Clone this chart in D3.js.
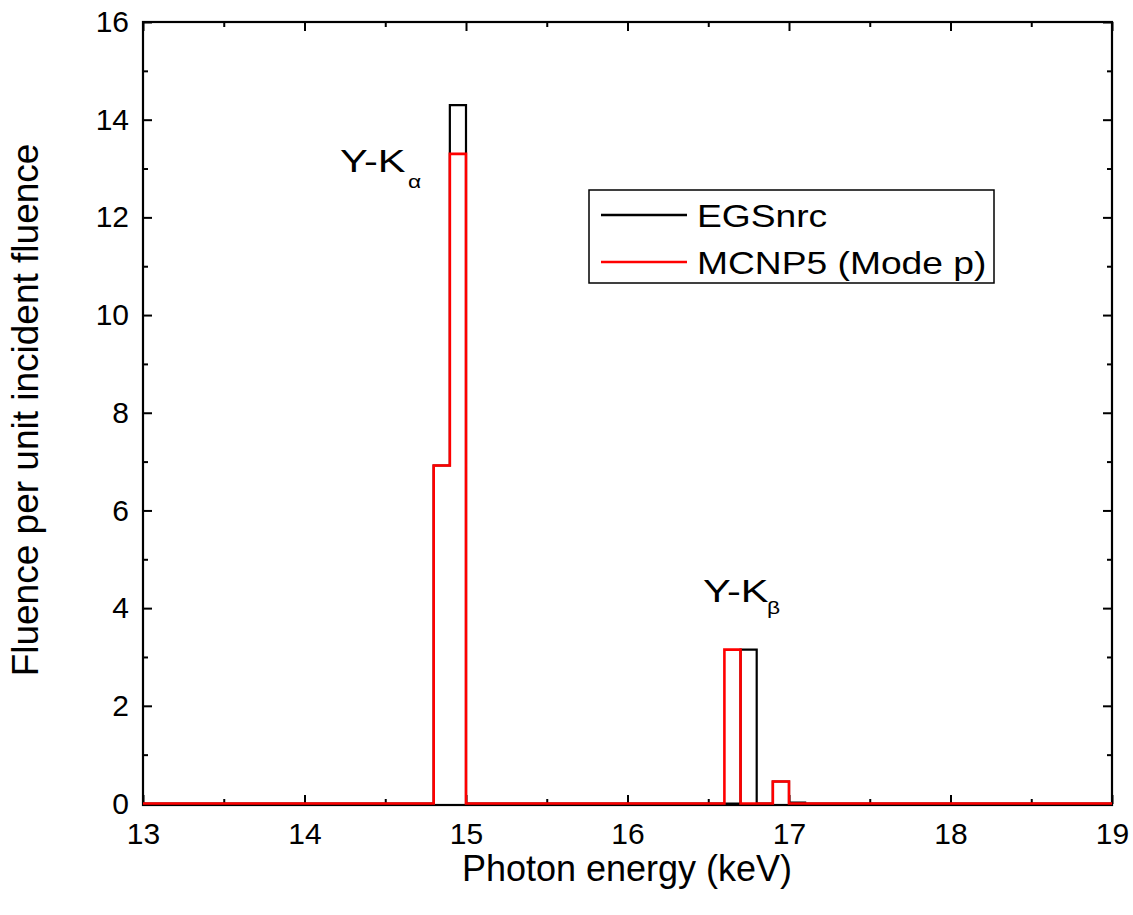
<!DOCTYPE html>
<html>
<head>
<meta charset="utf-8">
<script src="https://cdn.jsdelivr.net/npm/d3@7"></script>
<style>
  body { margin: 0; background: #fff; }
  svg { display: block; }
  text { font-family: "Liberation Sans", Arial, sans-serif; fill: #000; }
</style>
</head>
<body>
<svg id="chart" width="1133" height="915"></svg>
<script>
// ---- data (step histograms: bin left edge -> value) ----
const egsEnergy  = [13.0, 14.8, 14.9, 15.0, 16.7, 16.8, 16.9, 17.0, 17.1, 19.0];
const egsValue   = [0,    6.92, 14.3, 0,    3.15, 0,    0.45, 0.02, 0,    0];
const mcnpEnergy = [13.0, 14.8, 14.9, 15.0, 16.6, 16.7, 16.8, 16.9, 17.0, 19.0];
const mcnpValue  = [0,    6.92, 13.3, 0,    3.15, 0,    0,    0.45, 0,    0];
const xTicks = [13, 14, 15, 16, 17, 18, 19];
const xMinor = [13.5, 14.5, 15.5, 16.5, 17.5, 18.5];
const yTicks = [0, 2, 4, 6, 8, 10, 12, 14, 16];
const yMinor = [1, 3, 5, 7, 9, 11, 13, 15];
const seriesNames = ["EGSnrc", "MCNP5 (Mode p)"];
const seriesColors = ["#000000", "#ff0000"];

const svg = d3.select("#chart");
const L = 143, R = 1112, T = 22, B = 804;

const x = d3.scaleLinear().domain([13, 19]).range([L, R]);
const y = d3.scaleLinear().domain([0, 16]).range([B - 0.5, T]);

// axes with inward ticks on all four sides
const g = svg.append("g");
function styleAxis(sel) {
  sel.select(".domain").remove();
  sel.selectAll("line").attr("stroke", "#000").attr("stroke-width", 2);
}
g.append("g").attr("transform", `translate(0,${B})`)
  .call(d3.axisBottom(x).tickValues(xTicks).tickSize(-9).tickPadding(19).tickFormat(d3.format("d")))
  .call(styleAxis)
  .selectAll("text").attr("font-size", 30).attr("font-family", "Liberation Sans, Arial, sans-serif");
g.append("g").attr("transform", `translate(0,${B})`)
  .call(d3.axisBottom(x).tickValues(xMinor).tickSize(-5).tickFormat(""))
  .call(styleAxis);
g.append("g").attr("transform", `translate(0,${T})`)
  .call(d3.axisTop(x).tickValues(xTicks).tickSize(-9).tickFormat(""))
  .call(styleAxis);
g.append("g").attr("transform", `translate(0,${T})`)
  .call(d3.axisTop(x).tickValues(xMinor).tickSize(-5).tickFormat(""))
  .call(styleAxis);
g.append("g").attr("transform", `translate(${L},0)`)
  .call(d3.axisLeft(y).tickValues(yTicks).tickSize(-9).tickPadding(14).tickFormat(d3.format("d")))
  .call(styleAxis)
  .selectAll("text").attr("font-size", 30).attr("font-family", "Liberation Sans, Arial, sans-serif");
g.append("g").attr("transform", `translate(${L},0)`)
  .call(d3.axisLeft(y).tickValues(yMinor).tickSize(-5).tickFormat(""))
  .call(styleAxis);
g.append("g").attr("transform", `translate(${R},0)`)
  .call(d3.axisRight(y).tickValues(yTicks).tickSize(-9).tickFormat(""))
  .call(styleAxis);
g.append("g").attr("transform", `translate(${R},0)`)
  .call(d3.axisRight(y).tickValues(yMinor).tickSize(-5).tickFormat(""))
  .call(styleAxis);

// frame
svg.append("rect").attr("x", L).attr("y", T).attr("width", R - L).attr("height", B - T + 1)
  .attr("fill", "none").attr("stroke", "#000").attr("stroke-width", 2.2);

// series
const line = d3.line().x(d => x(d[0])).y(d => y(d[1])).curve(d3.curveStepAfter);
const egs = egsEnergy.map((e, i) => [e, egsValue[i]]);
const mcnp = mcnpEnergy.map((e, i) => [e, mcnpValue[i]]);
svg.append("path").datum(egs).attr("d", line)
  .attr("fill", "none").attr("stroke", seriesColors[0]).attr("stroke-width", 2.2);
svg.append("path").datum(mcnp).attr("d", line)
  .attr("fill", "none").attr("stroke", seriesColors[1]).attr("stroke-width", 2.6);

// annotations (text slightly widened, as in the reference)
function peakLabel(px, py, sub, subX, subY) {
  svg.append("text").attr("transform", `translate(${px},${py}) scale(1.3,1)`)
    .attr("font-size", 32).text("Y-K");
  svg.append("text").attr("transform", `translate(${subX},${subY}) scale(1.2,1)`)
    .attr("font-size", 19).attr("font-family", "DejaVu Serif, serif").text(sub);
}
peakLabel(340, 172, "α", 408, 188);
peakLabel(703, 602, "β", 767, 614);

// legend
const lg = svg.append("g");
lg.append("rect").attr("x", 589).attr("y", 190).attr("width", 405).attr("height", 93)
  .attr("fill", "#fff").attr("stroke", "#000").attr("stroke-width", 1.5);
seriesNames.forEach((name, i) => {
  const yy = 215 + i * 47;
  lg.append("line").attr("x1", 601).attr("x2", 687).attr("y1", yy).attr("y2", yy)
    .attr("stroke", seriesColors[i]).attr("stroke-width", 2.5);
  lg.append("text").attr("transform", `translate(697,${yy + 12}) scale(1.2,1)`)
    .attr("font-size", 31).text(name);
});

// axis titles
svg.append("text").attr("x", 627).attr("y", 881).attr("text-anchor", "middle")
  .attr("font-size", 36).text("Photon energy (keV)");
svg.append("text").attr("transform", "translate(38,410) rotate(-90)").attr("text-anchor", "middle")
  .attr("font-size", 37).text("Fluence per unit incident fluence");
</script>
</body>
</html>
